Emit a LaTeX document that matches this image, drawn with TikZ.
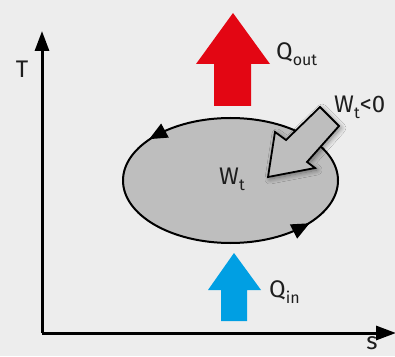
\documentclass[tikz,border=0pt]{standalone}
\usepackage{fontspec}
\setmainfont{Fira Sans}
\usetikzlibrary{arrows.meta,decorations.markings,shadows.blur}
\definecolor{bg}{HTML}{EDEDED}
\definecolor{qred}{HTML}{E30613}
\definecolor{qblue}{HTML}{009FE3}
\definecolor{cyc}{HTML}{BEBEBE}
\definecolor{txt}{HTML}{1E1E1E}
\newcommand{\lowsub}[1]{\raisebox{-0.45ex}{\fontsize{16}{16}\selectfont #1}}
\begin{document}
\begin{tikzpicture}[x=1pt,y=1pt,
  axis/.style={line width=3pt,-{Triangle[length=20pt,width=14pt]}},
  lbl/.style={text=txt,inner sep=0pt,font=\fontsize{24}{24}\selectfont},
  cyctip/.style={fill=black,draw=none},
  cycle/.style={draw=black,line width=2pt,fill=cyc,
    postaction={decorate},
    decoration={markings,
      mark=at position 0.39 with {\path[cyctip] (9pt,0pt) -- (-9pt,8pt) -- (-9pt,-8pt) -- cycle;},
      mark=at position 0.885 with {\path[cyctip] (9pt,0pt) -- (-9pt,8pt) -- (-9pt,-8pt) -- cycle;}}},
  work/.style={draw=black,line width=1.8pt,fill=cyc,line join=miter,
    blur shadow={shadow xshift=2pt,shadow yshift=-2pt,shadow blur steps=10,shadow blur radius=5pt,shadow opacity=45}}
]
\fill[bg] (0,0) rectangle (395,356);
\useasboundingbox (0,0) rectangle (395,356);
% axes
\coordinate (o) at (42,23);
\coordinate (ytop) at (42,325);
\coordinate (xend) at (396,23);
\draw[axis] (o) -- (ytop);
\draw[axis] (o) -- (xend);
\node[lbl,anchor=center] (T) at (22,287) {T};
\node[lbl,anchor=north] (s) at (372,20) {s};
% heat arrows
\fill[qred] (214,250) -- (214,292) -- (196,292) -- (233,343) -- (270,292) -- (251,292) -- (251,250) -- cycle;
\node[lbl,anchor=west] (qout) at (276,302) {Q\lowsub{out}};
\fill[qblue] (221,35) -- (221,66) -- (208,66) -- (234,103) -- (261,66) -- (247,66) -- (247,35) -- cycle;
\node[lbl,anchor=west] (qin) at (269,64) {Q\lowsub{in}};
% cycle
\path[cycle] (338,175.5) arc[start angle=0,end angle=360,x radius=107.5,y radius=62.5];
\node[lbl] (wt) at (232,177) {W\lowsub{t}};
% work arrow
\draw[work] (268,179) -- (275,224) -- (286,216) -- (320,249) -- (339,230) -- (307,194) -- (315,188) -- cycle;
\node[lbl,anchor=west] (wlt) at (334,249) {W\lowsub{t}<0};
\end{tikzpicture}
\end{document}
